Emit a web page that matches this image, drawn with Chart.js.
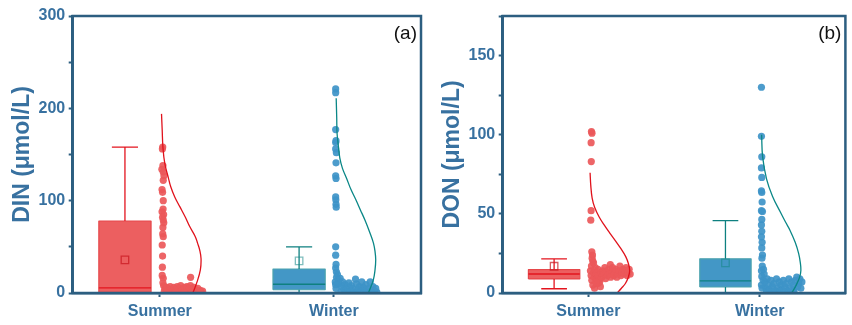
<!DOCTYPE html>
<html><head><meta charset="utf-8">
<script src="https://cdn.jsdelivr.net/npm/chart.js@4.4.1/dist/chart.umd.min.js"></script>
<style>
html,body{margin:0;padding:0;background:#fff;width:852px;height:325px;overflow:hidden}
#wrap{position:relative;width:852px;height:325px}
canvas{position:absolute;top:0}
#cA{left:0}
#cB{left:430px}
</style></head><body>
<div id="wrap"><canvas id="cA" width="430" height="325"></canvas><canvas id="cB" width="422" height="325"></canvas></div>
<script>
// ---------- DATA ----------
const categories = ['Summer', 'Winter'];
const panelTags = ['(a)', '(b)'];
const yTitles = ['DIN (μmol/L)', 'DON (μmol/L)'];
const dinMajorTicks = [0, 100, 200, 300];
const dinMinorTicks = [50, 150, 250];
const donMajorTicks = [0, 50, 100, 150];
const donMinorTicks = [25, 75, 125, 175];

// box statistics, [Summer, Winter]
const dinQ1 = [0.8, 3.5];
const dinQ3 = [78, 26];
const dinMedian = [5.5, 9.5];
const dinMean = [35.8, 34.8];
const dinLow = [0, 0];
const dinHigh = [158, 50];

const donQ1 = [8.9, 3.8];
const donQ3 = [14.8, 21.6];
const donMedian = [12, 7.6];
const donMean = [16.9, 19];
const donLow = [2.7, 0];
const donHigh = [21.6, 45.7];

// raw points: [x offset from category, value]
const summerDinPoints = [[0.017,158],[0.015,156],[0.018,138],[0.012,134],[0.02,131],[0.024,127],[0.02,122],[0.013,112],[0.016,109],[0.02,100],[0.019,91],[0.013,88],[0.022,85],[0.016,82],[0.02,79],[0.023,76],[0.018,71],[0.017,64],[0.02,61],[0.014,52],[0.016,40],[0.015,28],[0.014,19],[0.02,16],[0.018,11],[0.177,17],
 [0.022,8],[0.03,5],[0.026,2],[0.04,6],[0.046,3],[0.052,1],[0.06,7],[0.066,4],[0.072,2],[0.08,6],[0.086,1],[0.094,4],[0.1,7],[0.108,2],[0.114,5],[0.12,8],[0.128,3],[0.134,1],[0.142,6],[0.148,4],[0.156,7],[0.162,2],[0.17,5],[0.176,8],[0.182,3],[0.19,1],[0.196,6],[0.204,4],[0.21,2],[0.218,5],[0.226,1],[0.232,3],[0.24,1],[0.246,2],[0.036,0.5],[0.09,0.5],[0.138,0.5],[0.186,0.5],[0.23,0.5]];
const winterDinPoints = [[0.01,221],[0.01,217],[0.01,177],[0.012,165],[0.01,163],[0.01,156],[0.014,152],[0.012,141],[0.01,127],[0.012,124],[0.01,104],[0.011,101],[0.012,96],[0.013,93],[0.01,50],[0.01,41],[0.012,31],[0.01,27],[0.014,23],[0.02,20],[0.015,17],[0.008,12],[0.01,9],[0.012,5],
 [0.026,14],[0.03,10],[0.036,16],[0.044,7],[0.05,12],[0.056,4],[0.064,9],[0.07,2],[0.078,6],[0.086,11],[0.094,3],[0.1,8],[0.108,5],[0.116,1],[0.124,15],[0.13,10],[0.138,4],[0.146,7],[0.152,2],[0.16,12],[0.168,6],[0.176,3],[0.184,9],[0.19,1],[0.2,5],[0.208,12],[0.216,3],[0.224,7],[0.232,2],[0.24,5],[0.246,1],[0.04,1],[0.09,0.5],[0.134,0.5],[0.18,0.5],[0.212,0.5]];
const summerDonPoints = [[0.018,102],[0.021,101],[0.016,95],[0.017,83],[0.016,52],[0.014,46],[0.02,26],[0.024,24],[0.022,22],[0.026,20],[0.03,19],[0.018,17],
 [0.012,14],[0.016,11],[0.02,8],[0.026,5],[0.03,13],[0.034,10],[0.04,16],[0.046,12],[0.05,9],[0.056,15],[0.06,11],[0.066,7],[0.072,13],[0.078,10],[0.084,14],[0.09,12],[0.096,16],[0.1,9],[0.106,13],[0.112,11],[0.118,15],[0.128,18],[0.124,12],[0.13,10],[0.136,14],[0.142,16],[0.148,11],[0.154,13],[0.16,15],[0.166,10],[0.172,12],[0.178,14],[0.184,17],[0.19,11],[0.196,13],[0.202,15],[0.208,12],[0.214,14],[0.22,16],[0.226,11],[0.232,13],[0.238,15],[0.244,12],[0.036,3],[0.054,6],[0.07,4],[0.062,8],[0.044,7]];
const winterDonPoints = [[0.01,130],[0.01,99],[0.012,86],[0.01,79],[0.012,73],[0.01,64.5],[0.012,63.5],[0.014,57.5],[0.01,52],[0.016,51.5],[0.012,46.5],[0.01,43],[0.012,39],[0.01,35.5],[0.014,32],[0.012,28.5],[0.016,24],[0.013,22],[0.015,17],[0.022,15],[0.01,14],[0.026,12],[0.012,10.5],[0.02,8],[0.01,5],[0.014,3],
 [0.03,7],[0.036,3],[0.044,9],[0.05,5],[0.058,2],[0.066,8],[0.074,4],[0.082,6],[0.09,1.5],[0.098,9],[0.106,3],[0.114,7],[0.122,5],[0.13,2],[0.138,8],[0.146,4],[0.154,6],[0.162,1.5],[0.17,9],[0.178,3],[0.186,7],[0.194,5],[0.2,2],[0.208,8],[0.216,10],[0.222,4],[0.228,6],[0.234,9],[0.24,3],[0.246,7],[0.04,1],[0.08,1],[0.12,1],[0.16,1],[0.2,0.5]];

// distribution curves: [x offset from category, value]
const summerDinCurve = [[0.010,194],[0.014,176],[0.018,158],[0.029,140],[0.049,125],[0.063,115],[0.086,104],[0.115,93.5],[0.147,82],[0.172,72],[0.204,61],[0.217,54],[0.23,46],[0.237,37],[0.233,25],[0.214,12],[0.19,0]];
const winterDinCurve = [[0.013,211],[0.016,190],[0.018,173],[0.025,160],[0.034,146],[0.049,135],[0.073,124],[0.098,112],[0.126,101],[0.152,90],[0.178,79],[0.207,65],[0.227,54],[0.236,45],[0.24,36],[0.236,25],[0.226,14],[0.198,0]];
const summerDonCurve = [[0.010,76],[0.014,68],[0.022,60],[0.037,54],[0.063,48],[0.092,43],[0.124,38],[0.158,33],[0.19,28],[0.218,23],[0.234,18.5],[0.241,14],[0.233,10],[0.216,6],[0.193,3],[0.168,0]];
const winterDonCurve = [[0.011,100],[0.017,86],[0.04,72],[0.075,61],[0.121,51],[0.152,44.5],[0.175,40],[0.207,32],[0.227,25],[0.237,19],[0.24,14],[0.233,10],[0.213,5],[0.187,0]];

// ---------- STYLE ----------
const FONT = '"Liberation Sans", Arial, sans-serif';
const AX = '#2C5E80';
const TXT = '#3871A0';
const boxFill = ['#EC5F60', '#4397C6'];
const boxEdge = ['#E6474A', '#4CA3AE'];
const lineCol = ['#E3141E', '#0E8080'];
const dotCol = ['rgba(236,88,90,0.92)', 'rgba(62,148,200,0.92)'];
const meanCol = ['rgba(200,20,28,0.7)', 'rgba(20,135,135,0.55)'];
const curveCol = ['#E0121C', '#0A8787'];
const OFF = -0.2, HALF = 0.15, CAP = 0.075;

function line(data, color, width, extra) {
  return Object.assign({data, borderColor: color, borderWidth: width, pointRadius: 0, fill: false, showLine: true, borderJoinStyle: 'bevel'}, extra || {});
}

function makeDatasets(q1, q3, med, mean, lo, hi, points, curves) {
  const layers = [];
  categories.forEach((name, i) => {
    const c = i + 1, bc = c + OFF;
    // box fill
    layers.push(line([{x: bc - HALF, y: q3[i]}, {x: bc + HALF, y: q3[i]}], 'rgba(0,0,0,0)', 0,
      {fill: {value: q1[i]}, backgroundColor: boxFill[i]}));
    // box outline
    layers.push(line([{x: bc - HALF, y: q1[i]}, {x: bc + HALF, y: q1[i]}, {x: bc + HALF, y: q3[i]}, {x: bc - HALF, y: q3[i]}, {x: bc - HALF, y: q1[i]}], boxEdge[i], 1.2));
    // median
    layers.push(line([{x: bc - HALF, y: med[i]}, {x: bc + HALF, y: med[i]}], lineCol[i], 1.3));
    // whiskers
    layers.push(line([{x: bc + CAP, y: hi[i]}, {x: bc - CAP, y: hi[i]}, {x: bc, y: hi[i]}, {x: bc, y: q3[i]}], lineCol[i], 1.3));
    layers.push(line([{x: bc + CAP, y: lo[i]}, {x: bc - CAP, y: lo[i]}, {x: bc, y: lo[i]}, {x: bc, y: q1[i]}], lineCol[i], 1.3));
    // mean
    layers.push({data: [{x: bc, y: mean[i]}], showLine: false, pointStyle: 'rect', pointRadius: 5.3,
      pointBorderColor: meanCol[i], pointBackgroundColor: 'rgba(0,0,0,0)', pointBorderWidth: 1.3});
    // raw points
    layers.push({data: points[i].map(p => ({x: c + p[0], y: p[1]})), showLine: false, pointStyle: 'circle',
      pointRadius: 3.6, pointBackgroundColor: dotCol[i], pointBorderWidth: 0});
    // distribution curve
    layers.push(line(curves[i].map(p => ({x: c + p[0], y: p[1]})), curveCol[i], 1.3, {tension: 0.4}));
  });
  return layers.reverse();
}

const framePlugin = {
  id: 'frame',
  afterDatasetsDraw(chart) {
    const {ctx, chartArea: a} = chart;
    ctx.save();
    ctx.strokeStyle = AX; ctx.lineWidth = 2.5;
    ctx.strokeRect(a.left, a.top, a.right - a.left, a.bottom - a.top);
    ctx.restore();
  },
  afterDraw(chart) {
    const {ctx, chartArea: a} = chart;
    ctx.save();
    ctx.font = '19px ' + FONT; ctx.fillStyle = '#111';
    ctx.textAlign = 'right'; ctx.textBaseline = 'middle';
    ctx.fillText(chart.options.plugins.frame.tag, a.right - 4, a.top + 18);
    ctx.restore();
  }
};

function makeChart(canvas, datasets, yMax, major, minor, title, tag, padRight) {
  const allTicks = major.concat(minor).sort((a, b) => a - b);
  return new Chart(canvas, {
    type: 'line',
    data: {datasets},
    plugins: [framePlugin],
    options: {
      responsive: false, animation: false, events: [],
      layout: {padding: {top: 16, right: padRight, left: 0, bottom: 0}},
      plugins: {legend: {display: false}, tooltip: {enabled: false}, frame: {tag}},
      scales: {
        x: {
          type: 'linear', min: 0.5, max: 2.5,
          afterBuildTicks: s => { s.ticks = categories.map((_, i) => ({value: i + 1})); },
          afterFit: s => { s.height = 32; },
          ticks: {callback: v => categories[v - 1], font: {family: FONT, size: 16, weight: 'bold'}, color: TXT, padding: 4.5, maxRotation: 0, autoSkip: false},
          grid: {drawOnChartArea: false, tickLength: 4, tickColor: AX, tickWidth: 2},
          border: {color: AX, width: 2.5}
        },
        y: {
          type: 'linear', min: 0, max: yMax,
          afterBuildTicks: s => { s.ticks = allTicks.map(v => ({value: v})); },
          afterFit: s => { s.width = 72.7; },
          ticks: {callback: v => major.includes(v) ? String(v) : '', font: {family: FONT, size: 16, weight: 'bold'}, color: TXT, padding: 3.5, autoSkip: false},
          grid: {drawOnChartArea: false, tickLength: 4, tickColor: AX, tickWidth: 2},
          border: {color: AX, width: 2.5},
          title: {display: true, text: title, font: {family: FONT, size: 23, weight: 'bold'}, color: TXT, padding: {top: 9, bottom: 0}}
        }
      }
    }
  });
}

makeChart(document.getElementById('cA'),
  makeDatasets(dinQ1, dinQ3, dinMedian, dinMean, dinLow, dinHigh, [summerDinPoints, winterDinPoints], [summerDinCurve, winterDinCurve]),
  300, dinMajorTicks, dinMinorTicks, yTitles[0], panelTags[0], 9);
makeChart(document.getElementById('cB'),
  makeDatasets(donQ1, donQ3, donMedian, donMean, donLow, donHigh, [summerDonPoints, winterDonPoints], [summerDonCurve, winterDonCurve]),
  175, donMajorTicks, donMinorTicks, yTitles[1], panelTags[1], 1.3);
</script>
</body></html>
